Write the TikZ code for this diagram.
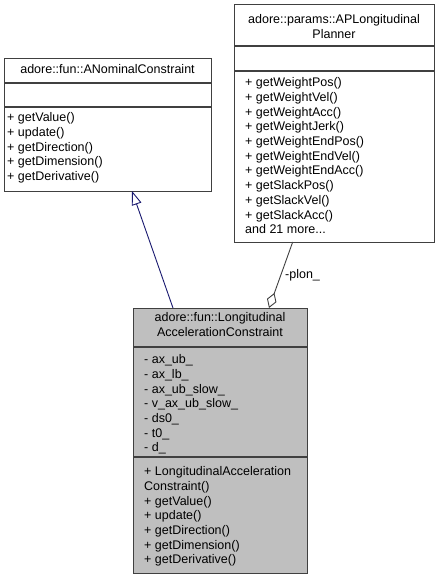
\documentclass[tikz,border=0pt]{standalone}
\usepackage{fontspec}
\setmainfont{Liberation Sans}
\usetikzlibrary{arrows.meta}
\newcommand\umlfs{\fontsize{12.5}{14.7}\selectfont}
\definecolor{bordercol}{HTML}{404040}
\definecolor{inhcol}{HTML}{191970}
\definecolor{aggcol}{HTML}{404040}
\definecolor{cfill}{HTML}{BFBFBF}
\begin{document}
\begin{tikzpicture}[x=1pt,y=-1pt,
  box/.style={draw=bordercol, line width=1.1pt, inner sep=0pt, anchor=north west},
  sep/.style={draw=bordercol, line width=1.1pt},
  txt/.style={inner sep=0pt, font=\umlfs, align=left, anchor=north west},
  ttl/.style={inner sep=0pt, font=\umlfs, align=center, anchor=north},
  inh/.style={draw=inhcol, line width=0.9pt, -{Triangle[open,length=14pt,width=10pt]}},
  agg/.style={draw=aggcol, line width=0.9pt, -{Diamond[open,length=16pt,width=10pt]}},
  lbl/.style={inner sep=0pt, font=\umlfs, anchor=west},
]
\useasboundingbox (0,0) rectangle (440,580);
\fill[white] (0,0) rectangle (440,580);

% Box A: ANominalConstraint
\node[box, minimum width=207pt, minimum height=133pt] (A) at (4,58) {};
\draw[sep] (A.west |- 0,83) -- (A.east |- 0,83);
\draw[sep] (A.west |- 0,107) -- (A.east |- 0,107);
\node[ttl] (Atitle) at (107.5,64.5) {adore::fun::ANominalConstraint};
\node[txt] (Aops) at (7,112.5) {+ getValue()\\+ update()\\+ getDirection()\\+ getDimension()\\+ getDerivative()};

% Box B: APLongitudinalPlanner
\node[box, minimum width=200pt, minimum height=238pt] (B) at (234,4) {};
\draw[sep] (B.west |- 0,46) -- (B.east |- 0,46);
\draw[sep] (B.west |- 0,71) -- (B.east |- 0,71);
\node[ttl] (Btitle) at (334,14.5) {adore::params::APLongitudinal\\Planner};
\node[txt] (Bops) at (245,77.5) {+ getWeightPos()\\+ getWeightVel()\\+ getWeightAcc()\\+ getWeightJerk()\\+ getWeightEndPos()\\+ getWeightEndVel()\\+ getWeightEndAcc()\\+ getSlackPos()\\+ getSlackVel()\\+ getSlackAcc()\\and 21 more...};

% Box C: LongitudinalAccelerationConstraint
\node[box, fill=cfill, minimum width=174pt, minimum height=265pt] (C) at (133,308) {};
\draw[sep] (C.west |- 0,347) -- (C.east |- 0,347);
\draw[sep] (C.west |- 0,457) -- (C.east |- 0,457);
\node[ttl] (Ctitle) at (220,312.5) {adore::fun::Longitudinal\\AccelerationConstraint};
\node[txt] (Cattr) at (144,354.5) {- ax\_ub\_\\- ax\_lb\_\\- ax\_ub\_slow\_\\- v\_ax\_ub\_slow\_\\- ds0\_\\- t0\_\\- d\_};
\node[txt] (Cops) at (144,466.5) {+ LongitudinalAcceleration\\Constraint()\\+ getValue()\\+ update()\\+ getDirection()\\+ getDimension()\\+ getDerivative()};

% Connectors
\coordinate (Cinh) at (173,308);
\coordinate (Ain) at (132,191);
\draw[inh] (Cinh) -- (Ain);

\coordinate (Bout) at (292.7,242);
\coordinate (Cagg) at (269,308);
\draw[agg] (Bout) -- (Cagg);
\node[lbl] (plon) at (285,275) {-plon\_};
\end{tikzpicture}
\end{document}
